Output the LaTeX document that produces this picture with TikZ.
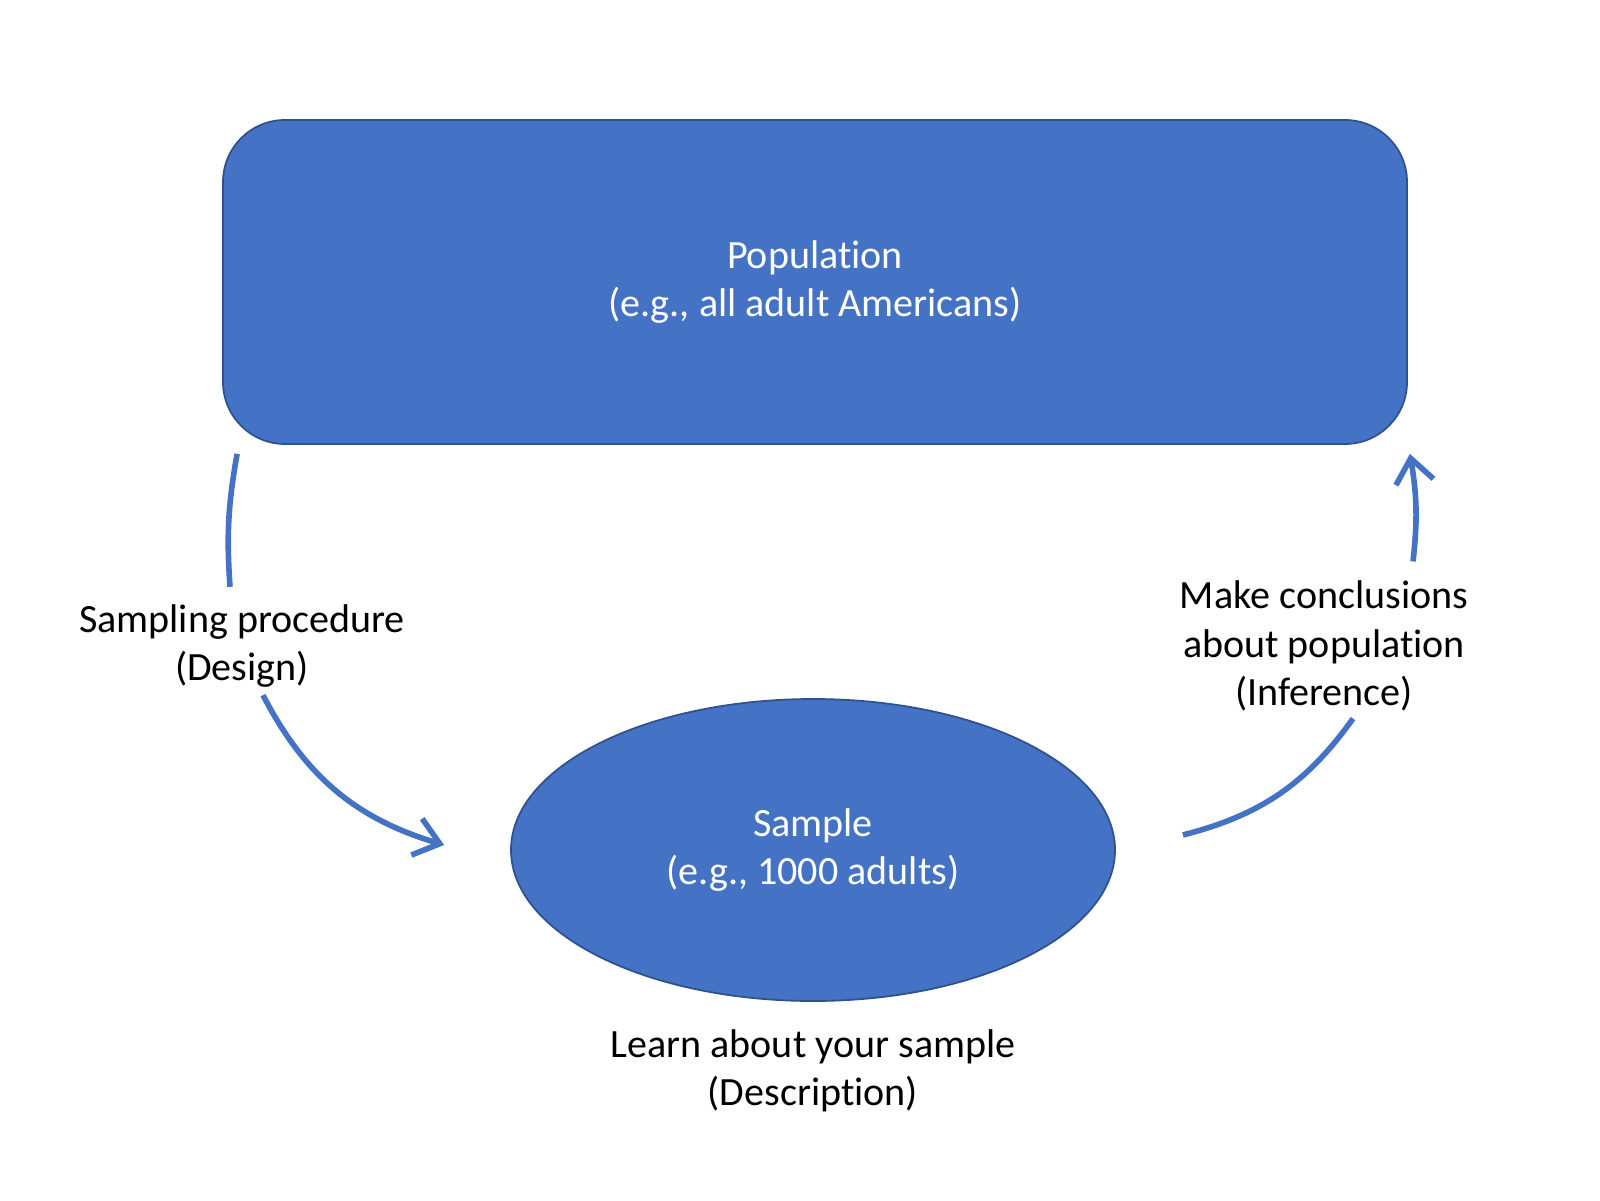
\documentclass[tikz,border=0pt]{standalone}
\usepackage{fontspec}
\setmainfont{Carlito}[Ligatures=NoCommon]
\usepackage{tikz}
\usetikzlibrary{positioning}
\usetikzlibrary{calc}
\usetikzlibrary{shapes.geometric}
\usetikzlibrary{arrows.meta}
\definecolor{officeblue}{HTML}{4472C4}
\definecolor{officeedge}{HTML}{2F528F}
\tikzset{%
  popbox/.style = {rectangle,draw=officeedge,fill=officeblue,line width=0.5pt,
        rounded corners=6.2mm,minimum width=11.84cm,minimum height=3.24cm,
        text=white,align=center,font=\fontsize{11.4}{13.7}\selectfont},
  sampbox/.style = {ellipse,draw=officeedge,fill=officeblue,line width=0.5pt,
        minimum width=6.04cm,minimum height=3.02cm,
        text=white,align=center,font=\fontsize{11.4}{13.7}\selectfont},
  lbl/.style = {align=center,inner sep=2pt,font=\fontsize{11.4}{13.7}\selectfont},
  flowline/.style = {draw=officeblue,line width=1.6pt},
  flow/.style = {flowline,-{Straight Barb[length=2.4mm,width=3.8mm,line width=1.6pt]}}
}
\begin{document}
\begin{tikzpicture}
    \useasboundingbox (0,0) rectangle (16,12);
    \node[popbox] (pop) at (8.15,9.18) {Population\\(e.g., all adult Americans)};
    \node[sampbox] (samp) at (8.13,3.50) {Sample\\(e.g., 1000 adults)};
    \node[lbl] (design) at (2.42,5.54) {Sampling procedure\\(Design)};
    \node[lbl] (infer) at (13.24,5.54) {Make conclusions\\about population\\(Inference)};
    \node[lbl] (descr) at (8.13,1.29) {Learn about your sample\\(Description)};
    % design arrow, split by its label
    \draw[flowline] ([xshift=1.5mm,yshift=-0.9mm]pop.south west)
        to[bend right=7] ([xshift=-1.2mm,yshift=1mm]design.north);
    \draw[flow] ([xshift=2.1mm]design.south)
        to[bend right=23] ([xshift=-6.6mm,yshift=0.5mm]samp.west);
    % inference arrow, split by its label
    \draw[flowline] ([xshift=6.7mm,yshift=1.5mm]samp.east)
        to[bend right=20] ([xshift=2.9mm]infer.south);
    \draw[flow] ([xshift=8.9mm,yshift=1.2mm]infer.north)
        to[bend right=8] ([xshift=0.2mm,yshift=-0.9mm]pop.south east);
\end{tikzpicture}
\end{document}
